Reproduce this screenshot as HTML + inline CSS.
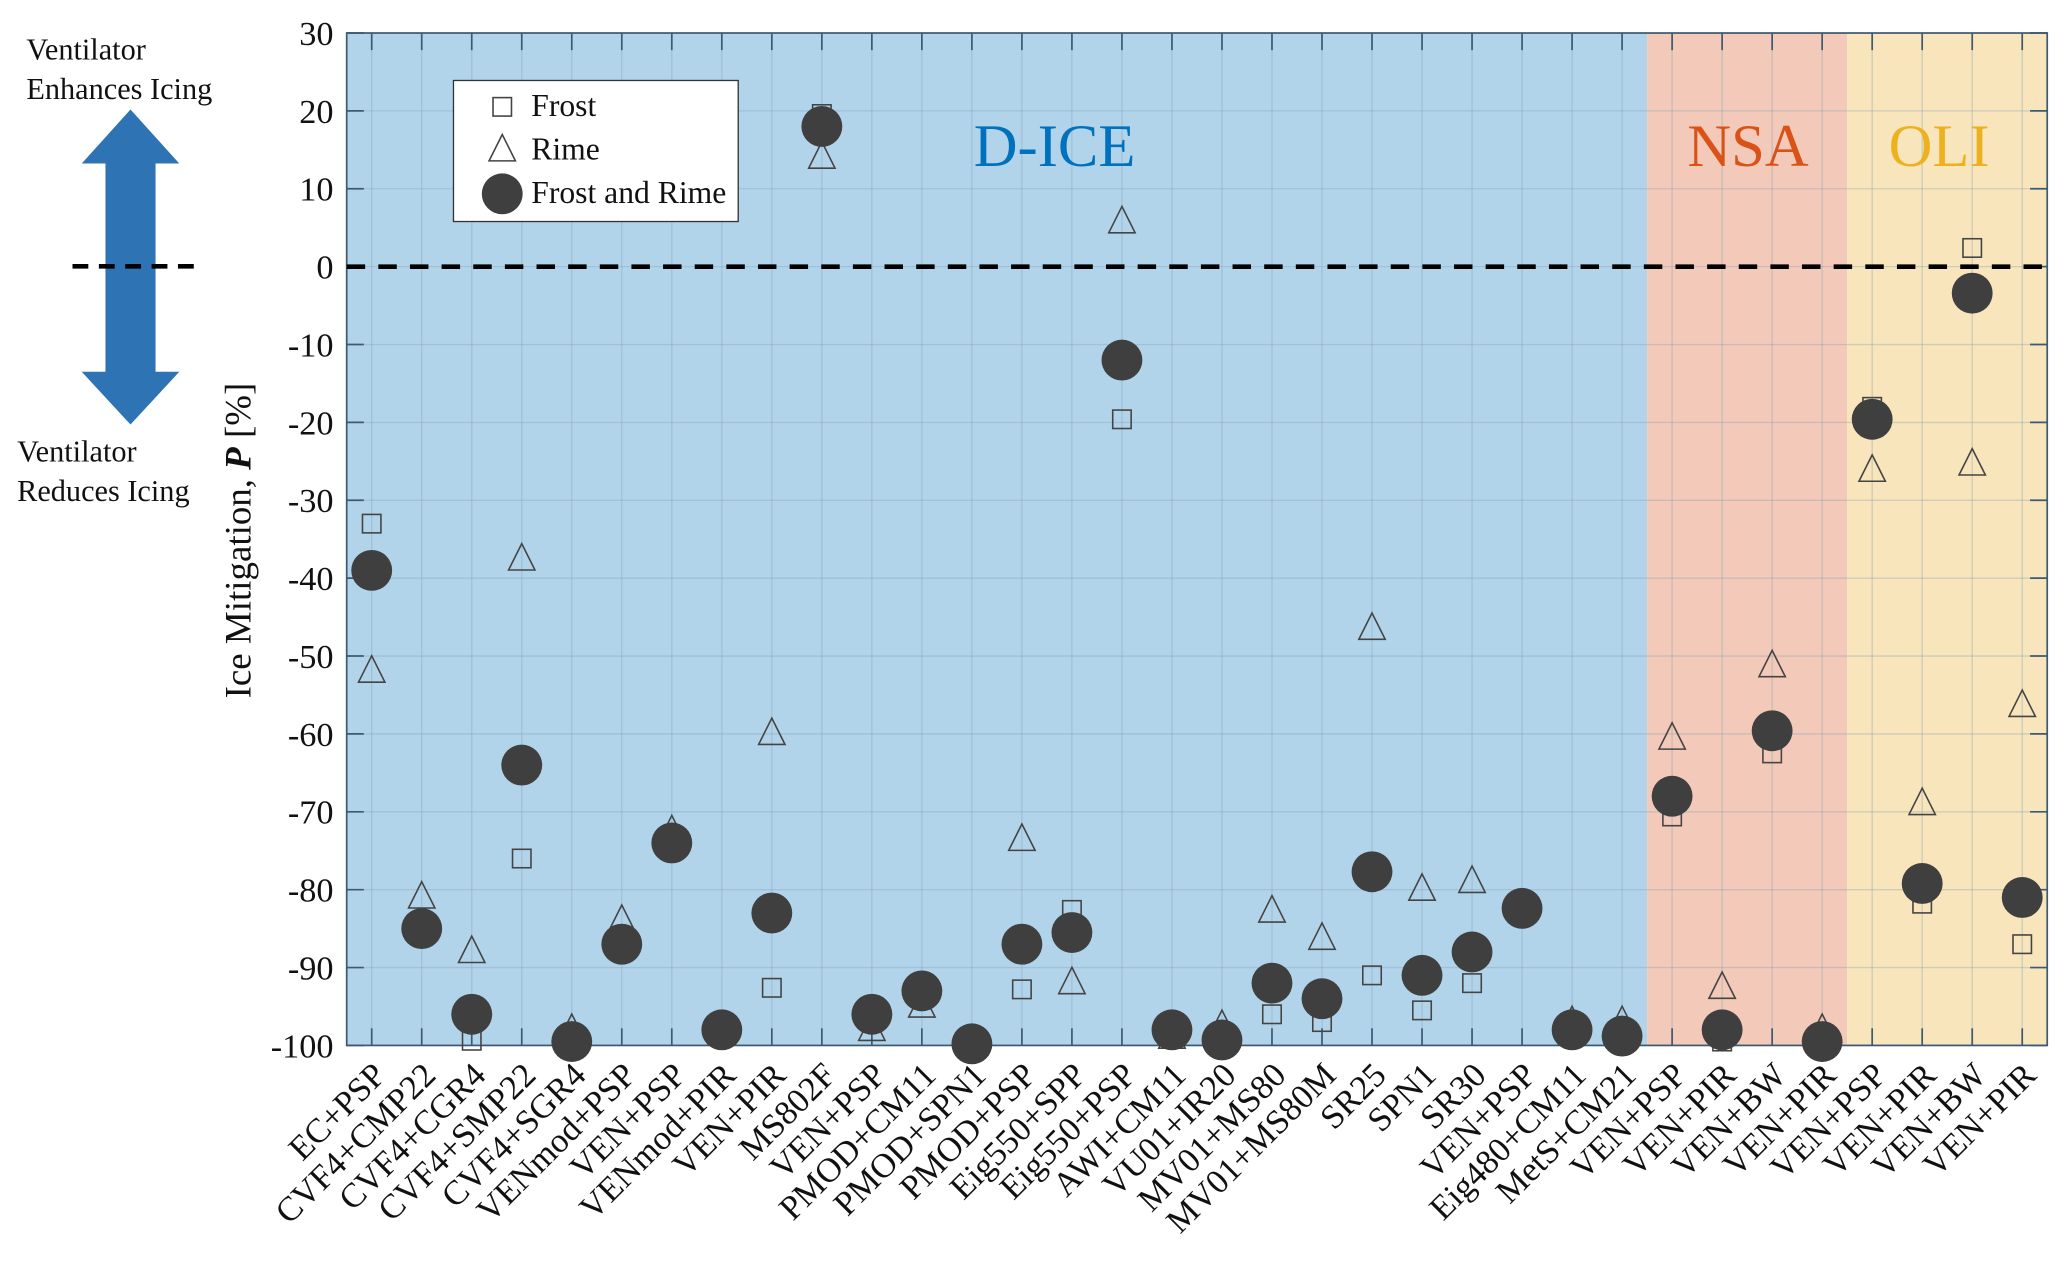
<!DOCTYPE html>
<html><head><meta charset="utf-8"><style>
html,body{margin:0;padding:0;background:#fff;}
svg{display:block;font-family:"Liberation Serif",serif;}
</style></head><body>
<svg id="chart" width="2067" height="1263" viewBox="0 0 1568 958" xmlns="http://www.w3.org/2000/svg"></svg>
<script>
const categories = ["EC+PSP","CVF4+CMP22","CVF4+CGR4","CVF4+SMP22","CVF4+SGR4","VENmod+PSP","VEN+PSP","VENmod+PIR","VEN+PIR","MS802F","VEN+PSP","PMOD+CM11","PMOD+SPN1","PMOD+PSP","Eig550+SPP","Eig550+PSP","AWI+CM11","VU01+IR20","MV01+MS80","MV01+MS80M","SR25","SPN1","SR30","VEN+PSP","Eig480+CM11","MetS+CM21","VEN+PSP","VEN+PIR","VEN+BW","VEN+PIR","VEN+PSP","VEN+PIR","VEN+BW","VEN+PIR"];
const frostValues = [-33,-86,-99.4,-76,-99.8,-88,-74,-98,-92.6,19.6,-95,-93,-99.8,-92.8,-82.6,-19.6,-99,-99.5,-96,-97,-91,-95.5,-92,-82.4,-98.5,-99,-70.6,-99.5,-62.5,-99.8,-18,-81.8,2.4,-87];
const rimeValues = [-52,-81,-88,-37.6,-98,-84,-72.5,-98,-60,14,-98,-95,-99.8,-73.6,-92,5.7,-99,-97.5,-82.8,-86.3,-46.5,-80,-79,-82.4,-97,-97,-60.6,-92.6,-51.3,-98,-26.2,-69,-25.4,-56.4];
const bothValues = [-39,-85,-96,-64,-99.5,-87,-74,-98,-83,18,-96,-93,-99.8,-87,-85.5,-12,-98,-99.3,-92,-94,-77.7,-91,-88,-82.4,-98,-98.8,-68,-98,-59.6,-99.5,-19.6,-79.2,-3.4,-81];
const yTicks = [30,20,10,0,-10,-20,-30,-40,-50,-60,-70,-80,-90,-100];
const regionNames = ["D-ICE","NSA","OLI"];
const regionStarts = [-0.5,25.5,29.5];
const regionEnds = [25.5,29.5,33.5];

const svg = document.getElementById('chart');
const NS = "http://www.w3.org/2000/svg";
const L=263,R=1553,T=25,B=793;
const x = i => L + (i+0.5)*(R-L)/34;
const y = v => T + (30-v)*(B-T)/130;
function mk(tag, attrs, parent){const e=document.createElementNS(NS,tag);for(const k in attrs)e.setAttribute(k,attrs[k]);(parent||svg).appendChild(e);return e;}

const regFill=["#b2d4ea","#f3cab9","#f8e5bb"];
const regText=["#0072BD","#D95319","#EDB120"];
regionNames.forEach((n,k)=>{
  const r=mk('rect',{x:x(regionStarts[k]),y:T,width:x(regionEnds[k])-x(regionStarts[k]),height:B-T,fill:regFill[k]});
  
  
});
const grid=mk('g',{stroke:"#7f9fb5","stroke-opacity":"0.35","stroke-width":"1"});


yTicks.forEach(v=>mk('line',{x1:L,x2:R,y1:y(v),y2:y(v)},grid));
categories.forEach((c,i)=>mk('line',{x1:x(i),x2:x(i),y1:T,y2:B},grid));
regionNames.forEach((n,k)=>{
  const t=mk('text',{x:[800,1326,1471][k],y:126,"font-size":46,fill:regText[k],"text-anchor":"middle"});
  t.textContent=n;
  
  
});
const ax=mk('g',{stroke:"#3d5a73","stroke-width":"1.3",fill:"none"});


mk('rect',{x:L,y:T,width:R-L,height:B-T},ax);
categories.forEach((c,i)=>{mk('line',{x1:x(i),x2:x(i),y1:B,y2:B-13},ax);mk('line',{x1:x(i),x2:x(i),y1:T,y2:T+13},ax);});
yTicks.forEach(v=>{mk('line',{x1:L,x2:L+13,y1:y(v),y2:y(v)},ax);mk('line',{x1:R,x2:R-13,y1:y(v),y2:y(v)},ax);});
yTicks.forEach(v=>{
  const t=mk('text',{x:253,y:y(v)+9,"font-size":26,"text-anchor":"end",fill:"#111"});
  t.textContent=v;
  
  
});
categories.forEach((c,i)=>{
  const lx=x(i)+12, ly=B+24;
  const t=mk('text',{x:lx,y:ly,"font-size":26,"text-anchor":"end",fill:"#111",transform:`rotate(-45 ${lx} ${ly})`});
  t.textContent=c;
  
  
});
const z=mk('line',{x1:L,x2:R,y1:y(0),y2:y(0),stroke:"#000","stroke-width":3.5,"stroke-dasharray":"14 10"});


function square(cx,cy,p){return mk('rect',{x:cx-7,y:cy-7,width:14,height:14,fill:"none",stroke:"#444","stroke-width":1.2},p);}
function tri(cx,cy,p){return mk('polygon',{points:`${cx},${cy-12} ${cx-10},${cy+8} ${cx+10},${cy+8}`,fill:"none",stroke:"#444","stroke-width":1.2},p);}
const gf=mk('g',{});  
const gr=mk('g',{});  
const gb=mk('g',{});  
frostValues.forEach((v,i)=>{const e=square(x(i),y(v),gf);});
rimeValues.forEach((v,i)=>{const e=tri(x(i),y(v),gr);});
bothValues.forEach((v,i)=>{const e=mk('circle',{cx:x(i),cy:y(v),r:15.5,fill:"#3f3f3f"},gb);});
const lg=mk('g',{});  
mk('rect',{x:344,y:61,width:216,height:107,fill:"#fff",stroke:"#333","stroke-width":1},lg);
square(381,81,lg); tri(381,114,lg); mk('circle',{cx:381,cy:147,r:15.5,fill:"#3f3f3f"},lg);
[["Frost",88],["Rime",121],["Frost and Rime",154]].forEach(([s,yy])=>{const t=mk('text',{x:403,y:yy,"font-size":24,fill:"#111"},lg);t.textContent=s;});
const yt=mk('text',{x:0,y:0,"font-size":28,fill:"#111","text-anchor":"middle",transform:"translate(190 410) rotate(-90)"});
yt.innerHTML='Ice Mitigation, <tspan font-style="italic" font-weight="bold">P</tspan> [%]';


const ar=mk('polygon',{points:"99,83 136,124 118,124 118,282 136,282 99,322 62,282 80,282 80,124 62,124",fill:"#2e74b5"});


const dl=mk('line',{x1:55,x2:150,y1:202,y2:202,stroke:"#000","stroke-width":3.5,"stroke-dasharray":"12 8"});


[["Ventilator",20,45],["Enhances Icing",20,75],["Ventilator",13,350],["Reduces Icing",13,380]].forEach(([s,xx,yy])=>{
  const t=mk('text',{x:xx,y:yy,"font-size":23,fill:"#111"});t.textContent=s;
  
  
});
</script>
</body></html>
